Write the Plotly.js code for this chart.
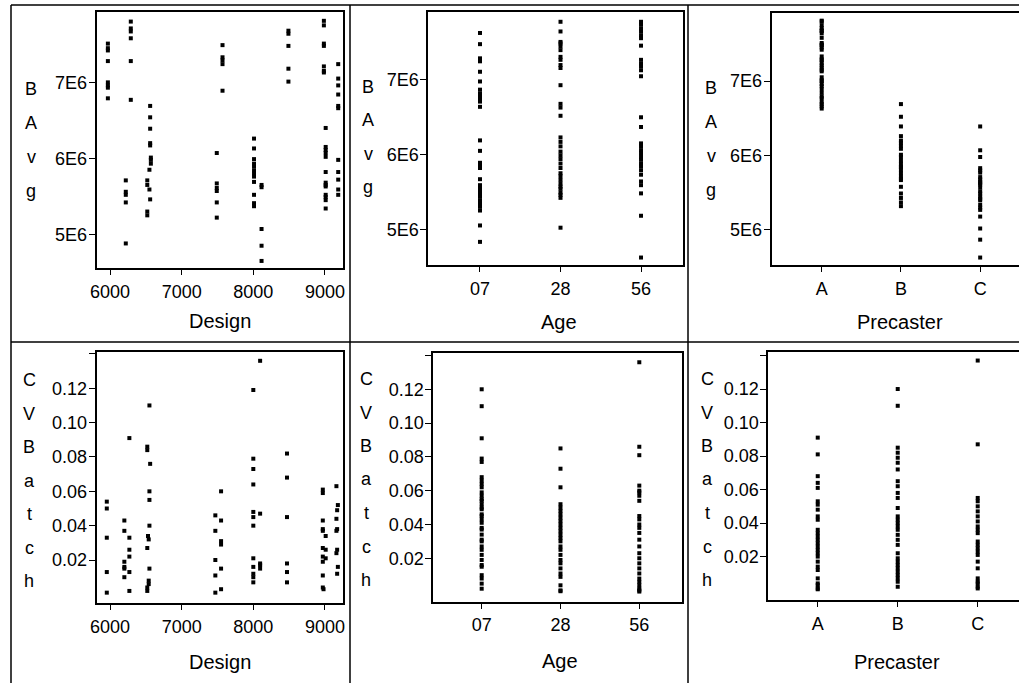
<!DOCTYPE html>
<html>
<head>
<meta charset="utf-8">
<script src="https://cdn.plot.ly/plotly-3.0.1.min.js"></script>
<style>html,body{margin:0;padding:0;background:#fff;}#chart{width:1019px;height:683px;}</style>
</head>
<body>
<div id="chart"></div>
<script>
// ---------- DATA (BAvg in millions, CVBatch as fraction) ----------
// Panel: Design vs BAvg
const designA_x = [5970,5970,5970,5970,5970,5970,5970,5970,
  6220,6220,6220,6220,6220,
  6290,6290,6290,6290,6290,6290,
  6560,6560,6560,6560,6560,6570,6570,6570,6550,6520,6520,6550,6560,6520,6520,
  7490,7490,7490,7490,7490,7490,
  7570,7570,7570,7570,7570,
  8010,8010,8010,8010,8010,8010,8010,8010,8010,8010,8010,8010,
  8115,8115,8115,8115,8115,
  8490,8490,8490,8490,8490,
  8985,8985,8985,8985,8985,8985,8985,
  9010,9010,9010,9010,9010,9010,9010,9010,9010,9010,9010,9010,9010,
  9185,9185,9185,9185,9185,9185,9185,9185,9185,9185,9185];
const designA_bavg = [7.51,7.45,7.42,7.28,7.00,6.96,6.93,6.79,
  5.71,5.56,5.52,5.42,4.88,
  7.80,7.71,7.67,7.58,7.28,6.77,
  6.69,6.54,6.39,6.20,6.17,6.01,5.98,5.93,5.85,5.71,5.65,5.59,5.46,5.30,5.25,
  6.07,5.67,5.61,5.57,5.42,5.22,
  7.49,7.33,7.29,7.24,6.89,
  6.26,6.13,5.99,5.93,5.89,5.84,5.80,5.76,5.69,5.52,5.41,5.37,
  5.65,5.62,5.07,4.85,4.65,
  7.68,7.64,7.48,7.18,7.01,
  7.81,7.75,7.51,7.48,7.21,7.15,7.13,
  6.40,6.15,6.11,6.07,6.02,5.82,5.68,5.65,5.63,5.52,5.49,5.45,5.34,
  7.24,7.05,6.96,6.84,6.69,6.66,5.98,5.82,5.72,5.59,5.52];

// Panel: Design vs CVBatch
const designC_x = [5955,5955,5955,5955,5955,
  6200,6200,6200,6200,6200,6200,
  6270,6270,6270,6270,6270,6270,
  6550,6520,6520,6560,6550,6550,6550,6530,6540,6520,6550,6540,6540,6520,6520,
  7470,7470,7470,7470,7470,
  7550,7550,7550,7550,7550,7550,
  8000,8000,8000,8000,8000,8000,8000,8000,8000,8000,8000,8000,
  8095,8095,8095,8095,8095,
  8470,8470,8470,8470,8470,8470,
  8970,8970,8970,8970,8970,9010,8970,9010,8970,9010,8970,8970,8970,8980,
  9160,9180,9170,9160,9170,9160,9170,9160,9180,9170];
const designC_cv = [0.054,0.050,0.033,0.013,0.001,
  0.043,0.037,0.019,0.016,0.015,0.010,
  0.091,0.033,0.026,0.022,0.013,0.002,
  0.110,0.086,0.084,0.076,0.060,0.055,0.040,0.034,0.032,0.027,0.015,0.008,0.006,0.004,0.002,
  0.046,0.037,0.020,0.011,0.001,
  0.060,0.043,0.031,0.029,0.015,0.003,
  0.119,0.079,0.073,0.064,0.048,0.045,0.040,0.021,0.016,0.012,0.010,0.007,
  0.136,0.047,0.018,0.017,0.015,
  0.082,0.068,0.045,0.018,0.013,0.007,
  0.061,0.059,0.043,0.038,0.037,0.034,0.027,0.026,0.022,0.021,0.019,0.011,0.004,0.003,
  0.063,0.052,0.049,0.044,0.038,0.037,0.026,0.024,0.016,0.012];

// Panel: Age vs BAvg
const ageLabels = ["07","28","56"];
const bavg_age07 = [7.63,7.48,7.29,7.27,7.25,7.11,6.98,6.87,6.82,6.79,6.75,6.71,6.64,6.19,6.05,5.89,5.86,5.82,5.67,5.59,5.55,5.50,5.48,5.44,5.39,5.35,5.30,5.25,5.05,4.83];
const bavg_age28 = [7.78,7.65,7.51,7.49,7.45,7.40,7.31,7.27,7.20,7.16,6.93,6.68,6.63,6.52,6.23,6.17,6.11,6.04,5.99,5.94,5.88,5.82,5.75,5.71,5.66,5.61,5.57,5.54,5.49,5.46,5.42,5.02];
const bavg_age56 = [7.78,7.74,7.69,7.65,7.60,7.56,7.46,7.27,7.22,7.18,7.13,7.05,6.50,6.37,6.15,6.11,6.06,6.02,5.97,5.93,5.88,5.84,5.79,5.73,5.64,5.59,5.48,5.18,4.62];

// Panel: Precaster vs BAvg
const precLabels = ["A","B","C"];
const bavg_precA = [7.81,7.80,7.75,7.71,7.68,7.67,7.64,7.58,7.51,7.49,7.48,7.45,7.42,7.33,7.29,7.28,7.24,7.21,7.18,7.15,7.13,7.05,7.01,7.00,6.96,6.93,6.89,6.84,6.79,6.77,6.72,6.69,6.66,6.63];
const bavg_precB = [6.69,6.52,6.39,6.26,6.20,6.17,6.13,6.09,6.01,5.98,5.93,5.89,5.85,5.84,5.80,5.76,5.72,5.69,5.67,5.58,5.49,5.43,5.37,5.32];
const bavg_precC = [6.39,6.07,5.98,5.83,5.80,5.77,5.71,5.68,5.65,5.63,5.61,5.57,5.52,5.49,5.45,5.42,5.40,5.34,5.30,5.27,5.18,5.02,4.87,4.63];

// Panel: Age vs CVBatch
const cv_age07 = [0.120,0.110,0.091,0.079,0.077,0.068,0.066,0.064,0.062,0.059,0.057,0.055,0.054,0.052,0.050,0.049,0.046,0.045,0.043,0.041,0.038,0.037,0.034,0.031,0.030,0.027,0.025,0.022,0.019,0.016,0.015,0.010,0.008,0.005,0.002];
const cv_age28 = [0.085,0.073,0.062,0.052,0.050,0.048,0.046,0.044,0.042,0.040,0.038,0.036,0.034,0.032,0.030,0.027,0.025,0.022,0.019,0.017,0.014,0.011,0.009,0.004,0.001,0.0005];
const cv_age56 = [0.136,0.086,0.081,0.063,0.060,0.059,0.057,0.054,0.045,0.043,0.040,0.038,0.035,0.031,0.027,0.023,0.020,0.017,0.014,0.011,0.008,0.006,0.004,0.002,0.001,0.0003];

// Panel: Precaster vs CVBatch
const cv_precA = [0.091,0.081,0.068,0.064,0.061,0.053,0.051,0.048,0.044,0.042,0.036,0.034,0.032,0.030,0.028,0.026,0.024,0.022,0.020,0.017,0.014,0.012,0.007,0.004,0.003,0.001,0.0005];
const cv_precB = [0.120,0.110,0.085,0.082,0.079,0.076,0.072,0.065,0.062,0.058,0.055,0.049,0.044,0.042,0.040,0.038,0.036,0.033,0.030,0.027,0.022,0.019,0.017,0.015,0.013,0.011,0.009,0.007,0.005,0.002];
const cv_precC = [0.137,0.087,0.055,0.053,0.050,0.047,0.044,0.041,0.038,0.036,0.034,0.029,0.027,0.025,0.023,0.021,0.017,0.013,0.007,0.005,0.004,0.002,0.001];

// Tick labels
const bavgTickVals = [5e6,6e6,7e6];
const bavgTickText = ["5E6","6E6","7E6"];
const cvTickVals = [0.02,0.04,0.06,0.08,0.10,0.12,0.14];
const cvTickText = ["0.02","0.04","0.06","0.08","0.10","0.12",""];
const designTickVals = [6000,7000,8000,9000];

// ---------- BUILD ----------
const W = 1019, H = 683;
const px = v => v / W;
const py = v => 1 - v / H;
const FONT = "Liberation Sans, Arial, sans-serif";
const toM = arr => arr.map(v => v * 1e6);

const mk = {symbol: "square", size: 4, color: "#000", line: {width: 0}};
function tr(x, y, n) {
  return {type: "scatter", mode: "markers", x: x, y: y, xaxis: "x" + n, yaxis: "y" + n,
          marker: mk, showlegend: false, hoverinfo: "x+y", cliponaxis: false};
}
function catTrace(labels, groups, n, scale) {
  const x = [], y = [];
  groups.forEach((g, i) => g.forEach(v => { x.push(labels[i]); y.push(scale ? v * 1e6 : v); }));
  return tr(x, y, n);
}

const data = [
  tr(designA_x, toM(designA_bavg), ""),
  catTrace(ageLabels, [bavg_age07, bavg_age28, bavg_age56], 2, true),
  catTrace(precLabels, [bavg_precA, bavg_precB, bavg_precC], 3, true),
  tr(designC_x, designC_cv, 4),
  catTrace(ageLabels, [cv_age07, cv_age28, cv_age56], 5, false),
  catTrace(precLabels, [cv_precA, cv_precB, cv_precC], 6, false)
];

const tickFont = {family: FONT, size: 18, color: "#000"};
function xax(dom, range, extra) {
  return Object.assign({domain: dom, range: range, showgrid: false, zeroline: false,
    showline: true, linecolor: "#000", linewidth: 2, mirror: true,
    ticks: "outside", ticklen: 5, tickwidth: 1, tickcolor: "#000",
    tickfont: tickFont, ticklabelstandoff: 1, fixedrange: true}, extra || {});
}
function yax(dom, range, extra) {
  return Object.assign({domain: dom, range: range, showgrid: false, zeroline: false,
    showline: true, linecolor: "#000", linewidth: 2, mirror: true,
    ticks: "outside", ticklen: 6, tickwidth: 1, tickcolor: "#000",
    tickfont: tickFont, ticklabelstandoff: -2, fixedrange: true}, extra || {});
}

const layout = {
  width: W, height: H,
  margin: {l: 0, r: 0, t: 0, b: 0},
  paper_bgcolor: "#fff", plot_bgcolor: "#fff",
  font: {family: FONT, color: "#000"},
  showlegend: false,
  xaxis:  xax([px(96.7), px(343.3)], [5814, 9256], {anchor: "y", tickvals: designTickVals}),
  yaxis:  yax([py(268.3), py(11.7)], [4.553e6, 7.93e6], {anchor: "x", tickvals: bavgTickVals, ticktext: bavgTickText}),
  xaxis2: xax([px(428.3), px(683.3)], [-0.642, 2.525], {anchor: "y2", type: "category", categoryorder: "array", categoryarray: ageLabels}),
  yaxis2: yax([py(265), py(12.3)], [4.52e6, 7.907e6], {anchor: "x2", tickvals: bavgTickVals, ticktext: bavgTickText}),
  xaxis3: xax([px(771.7), 1], [-0.631, 2.49], {anchor: "y3", type: "category", categoryorder: "array", categoryarray: precLabels}),
  yaxis3: yax([py(265), py(13)], [4.53e6, 7.913e6], {anchor: "x3", mirror: false, tickvals: bavgTickVals, ticktext: bavgTickText}),
  xaxis4: xax([px(96.7), px(343.3)], [5814, 9256], {anchor: "y4", tickvals: designTickVals}),
  yaxis4: yax([py(603.3), py(351.7)], [-0.0052, 0.1413], {anchor: "x4", tickvals: cvTickVals, ticktext: cvTickText}),
  xaxis5: xax([px(433.3), px(681.7)], [-0.614, 2.538], {anchor: "y5", type: "category", categoryorder: "array", categoryarray: ageLabels}),
  yaxis5: yax([py(601.7), py(353.3)], [-0.0057, 0.1413], {anchor: "x5", tickvals: cvTickVals, ticktext: cvTickText}),
  xaxis6: xax([px(768.3), 1], [-0.618, 2.516], {anchor: "y6", type: "category", categoryorder: "array", categoryarray: precLabels}),
  yaxis6: yax([py(600), py(352)], [-0.0059, 0.1421], {anchor: "x6", mirror: false, tickvals: cvTickVals, ticktext: cvTickText}),
  shapes: [],
  annotations: []
};

// Cell separator frame
const lineStyle = {color: "#000", width: 1.5};
[[11, 5, 1019, 5], [11, 342, 1019, 342], [11, 5, 11, 683], [350, 5, 350, 683], [688, 5, 688, 683]]
  .forEach(s => layout.shapes.push({type: "line", xref: "paper", yref: "paper",
    x0: px(s[0]), y0: py(s[1]), x1: px(s[2]), y1: py(s[3]), line: lineStyle}));

// X axis titles
const titleFont = {family: FONT, size: 20, color: "#000"};
[["Design", 220, 321], ["Age", 559, 322], ["Precaster", 900, 322],
 ["Design", 220, 662], ["Age", 560, 661], ["Precaster", 897, 662]]
  .forEach(t => layout.annotations.push({text: t[0], xref: "paper", yref: "paper",
    x: px(t[1]), y: py(t[2]), xanchor: "center", yanchor: "middle", showarrow: false, font: titleFont}));

// Vertical stacked Y axis titles
const letterFont = {family: FONT, size: 18, color: "#000"};
function stack(word, xc, y0, step) {
  word.split("").forEach((ch, i) => layout.annotations.push({text: ch, xref: "paper", yref: "paper",
    x: px(xc), y: py(y0 + i * step), xanchor: "center", yanchor: "middle", showarrow: false, font: letterFont}));
}
stack("BAvg", 31, 89, 34);
stack("BAvg", 368, 87, 33.5);
stack("BAvg", 711, 88, 34);
stack("CVBatch", 29, 380, 33.5);
stack("CVBatch", 366, 379, 33.5);
stack("CVBatch", 707, 379, 33.5);

Plotly.newPlot("chart", data, layout, {staticPlot: true, displayModeBar: false});
</script>
</body>
</html>
